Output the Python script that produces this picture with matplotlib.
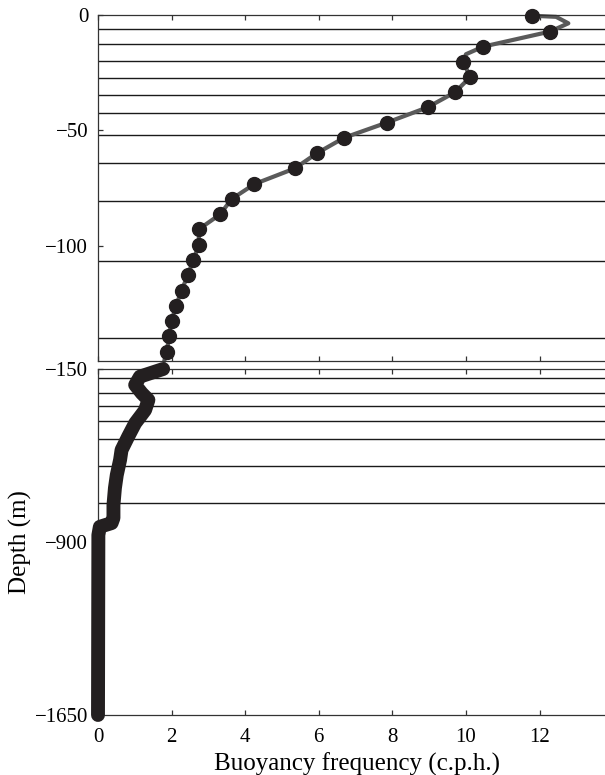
import matplotlib
matplotlib.use("Agg")
import matplotlib.pyplot as plt

plt.rcParams["font.family"] = ["Liberation Serif", "DejaVu Serif"]

# upper 150 m: binned profile (dots) and the smooth profile (gray line)
n_dots = [11.79, 12.28, 10.47, 9.93, 10.11, 9.70, 8.96, 7.84, 6.69, 5.94,
          5.35, 4.25, 3.63, 3.32, 2.74, 2.74, 2.59, 2.44, 2.27, 2.12,
          2.00, 1.93, 1.87]
z_dots = [-0.3, -7.2, -13.7, -20.2, -27.0, -33.5, -40.0, -46.7, -53.2, -60.0,
          -66.5, -73.3, -79.8, -86.4, -92.9, -99.7, -106.2, -112.8, -119.5, -126.0,
          -132.7, -139.2, -146.0]
n_line = [11.79, 12.45, 12.78, 12.28, 10.47, 10.0, 9.93, 10.11, 9.70, 8.96,
          7.84, 6.69, 5.94, 5.35, 4.25, 3.63, 3.32, 2.74, 2.74, 2.59,
          2.44, 2.27, 2.12, 2.00, 1.93, 1.87, 1.80]
z_line = [-0.3, -0.8, -3.6, -7.2, -13.7, -17.0, -20.2, -27.0, -33.5, -40.0,
          -46.7, -53.2, -60.0, -66.5, -73.3, -79.8, -86.4, -92.9, -99.7, -106.2,
          -112.8, -119.5, -126.0, -132.7, -139.2, -146.0, -150.0]

# deep part (dots so dense they merge into one thick trace)
n_deep = [1.77, 1.14, 1.01, 1.19, 1.37, 1.28, 1.01, 0.82, 0.64, 0.60,
          0.51, 0.46, 0.42, 0.42, 0.37, 0.05, 0.01, 0.0]
z_deep = [-150, -183, -219, -255, -284, -328, -385, -443, -501, -544,
          -610, -666, -740, -796, -818, -834, -870, -1650]

# instrument depths (horizontal lines)
lines_top = [-6.2, -12.4, -19.9, -27.2, -34.7, -42.6, -52.1, -64.2, -80.7, -106.5, -140.2]
lines_deep = [-187.7, -252.7, -310.4, -374.1, -453.5, -571.8, -732.2]

xticks = [0, 2, 4, 6, 8, 10, 12]

W, H = 605, 775
fig = plt.figure(figsize=(W / 100, H / 100), dpi=100)
ax1 = fig.add_axes([98 / W, 1 - 361 / H, 1 - 98 / W, 346 / H])
ax2 = fig.add_axes([98 / W, 1 - 715 / H, 1 - 98 / W, 346 / H])

dot_color = "#231f20"

for ax in (ax1, ax2):
    ax.set_xlim(0, (W - 98) / 36.8)
    ax.set_xticks(xticks)
    ax.spines["right"].set_visible(False)
    for s in ("left", "top", "bottom"):
        ax.spines[s].set_linewidth(0.9)
        ax.spines[s].set_color("#333333")
    ax.tick_params(direction="in", length=3.8, width=0.9, color="#333333",
                   top=True, bottom=True, left=True, right=False,
                   labelsize=15, pad=7)

# top panel
ax1.set_ylim(-150, 0)
ax1.set_yticks([0, -50, -100])
ax1.tick_params(labelbottom=False)
for z in lines_top:
    ax1.axhline(z, color="#1a1a1a", lw=1.0, zorder=1)
ax1.plot(n_line, z_line, color="#5a5a5a", lw=3.0, solid_joinstyle="round",
         solid_capstyle="round", zorder=2, clip_on=False)
ax1.plot(n_dots, z_dots, "o", color=dot_color, ms=10, zorder=3, clip_on=False)

# bottom panel
ax2.set_ylim(-1650, -150)
ax2.set_yticks([-150, -900, -1650])
for z in lines_deep:
    ax2.axhline(z, color="#1a1a1a", lw=1.0, zorder=1)
ax2.plot(n_deep, z_deep, color=dot_color, lw=10, solid_joinstyle="round",
         solid_capstyle="round", zorder=3, clip_on=False)
ax2.tick_params(axis="x", pad=9)

ax2.set_xlabel("Buoyancy frequency (c.p.h.)", fontsize=18)
ax2.xaxis.set_label_coords(0.51, -0.108)
ax2.set_ylabel("Depth (m)", fontsize=18)
ax2.yaxis.set_label_coords(-0.13, 0.5)

fig.savefig("out.png", dpi=100)
